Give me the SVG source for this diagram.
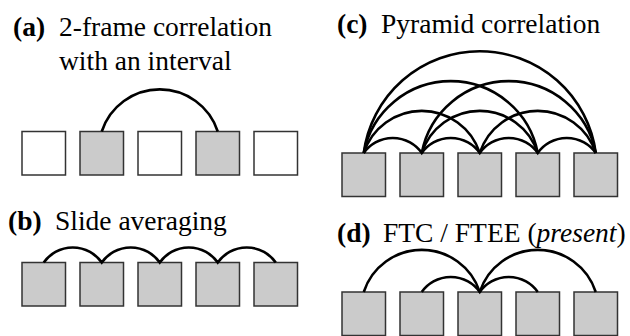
<svg xmlns="http://www.w3.org/2000/svg" width="630" height="336" viewBox="0 0 630 336">
<defs>
<style>
.t{font-size:27.5px;fill:#000}
.b{font-weight:bold}
.i{font-style:italic}
.box{stroke:#333;stroke-width:1.5}
.g{fill:#cbcbcb}
.w{fill:#fff}
.arc{fill:none;stroke:#000;stroke-width:2.6}
</style>
</defs>
<rect width="630" height="336" fill="#fff"/>
<g id="labels" font-family="'Liberation Serif', 'Times New Roman', Times, serif">
<text class="t b" x="13" y="36">(a)</text>
<text class="t" x="59" y="36">2-frame correlation</text>
<text class="t" x="59" y="70">with an interval</text>
<text class="t b" x="8" y="230">(b)</text>
<text class="t" x="55" y="230">Slide averaging</text>
<text class="t b" x="337" y="33">(c)</text>
<text class="t" x="381" y="33">Pyramid correlation</text>
<text class="t b" x="337" y="242">(d)</text>
<text class="t" x="383" y="242">FTC / FTEE (<tspan class="i">present</tspan>)</text>
</g>
<g id="panel-a">
<rect id="a1" class="box w" x="22" y="131.5" width="43.5" height="43.5"/>
<rect id="a2" class="box g" x="80" y="131.5" width="43.5" height="43.5"/>
<rect id="a3" class="box w" x="138" y="131.5" width="43.5" height="43.5"/>
<rect id="a4" class="box g" x="196" y="131.5" width="43.5" height="43.5"/>
<rect id="a5" class="box w" x="254" y="131.5" width="43.5" height="43.5"/>
</g>
<g id="panel-b">
<rect id="b1" class="box g" x="22" y="262.5" width="43.5" height="43.5"/>
<rect id="b2" class="box g" x="80" y="262.5" width="43.5" height="43.5"/>
<rect id="b3" class="box g" x="138" y="262.5" width="43.5" height="43.5"/>
<rect id="b4" class="box g" x="196" y="262.5" width="43.5" height="43.5"/>
<rect id="b5" class="box g" x="254" y="262.5" width="43.5" height="43.5"/>
</g>
<g id="panel-c">
<rect id="c1" class="box g" x="342" y="153" width="43.5" height="43.5"/>
<rect id="c2" class="box g" x="400" y="153" width="43.5" height="43.5"/>
<rect id="c3" class="box g" x="458" y="153" width="43.5" height="43.5"/>
<rect id="c4" class="box g" x="516" y="153" width="43.5" height="43.5"/>
<rect id="c5" class="box g" x="574" y="153" width="43.5" height="43.5"/>
</g>
<g id="panel-d">
<rect id="d1" class="box g" x="342" y="292" width="43.5" height="43.5"/>
<rect id="d2" class="box g" x="400" y="292" width="43.5" height="43.5"/>
<rect id="d3" class="box g" x="458" y="292" width="43.5" height="43.5"/>
<rect id="d4" class="box g" x="516" y="292" width="43.5" height="43.5"/>
<rect id="d5" class="box g" x="574" y="292" width="43.5" height="43.5"/>
</g>
<g id="connectors">
<path class="arc" d="M101.75 131.5 A61 61 0 0 1 217.75 131.5"/>
<path class="arc" d="M43.75 262.5 A35.5 35.5 0 0 1 101.75 262.5 A35.5 35.5 0 0 1 159.75 262.5 A35.5 35.5 0 0 1 217.75 262.5 A35.5 35.5 0 0 1 275.75 262.5"/>
<path class="arc" d="M363.75 153 A35.5 35.5 0 0 1 421.75 153 A35.5 35.5 0 0 1 479.75 153 A35.5 35.5 0 0 1 537.75 153 A35.5 35.5 0 0 1 595.75 153"/>
<path class="arc" d="M363.75 153 A61 61 0 0 1 479.75 153"/>
<path class="arc" d="M421.75 153 A61 61 0 0 1 537.75 153"/>
<path class="arc" d="M479.75 153 A61 61 0 0 1 595.75 153"/>
<path class="arc" d="M363.75 153 A88.6 88.6 0 0 1 537.75 153"/>
<path class="arc" d="M421.75 153 A88.6 88.6 0 0 1 595.75 153"/>
<path class="arc" d="M363.75 153 A117 117 0 0 1 595.75 153"/>
<path class="arc" d="M363.75 292 A61 61 0 0 1 479.75 292"/>
<path class="arc" d="M479.75 292 A61 61 0 0 1 595.75 292"/>
<path class="arc" d="M421.75 292 A35.5 35.5 0 0 1 479.75 292 A35.5 35.5 0 0 1 537.75 292"/>
</g>
</svg>
